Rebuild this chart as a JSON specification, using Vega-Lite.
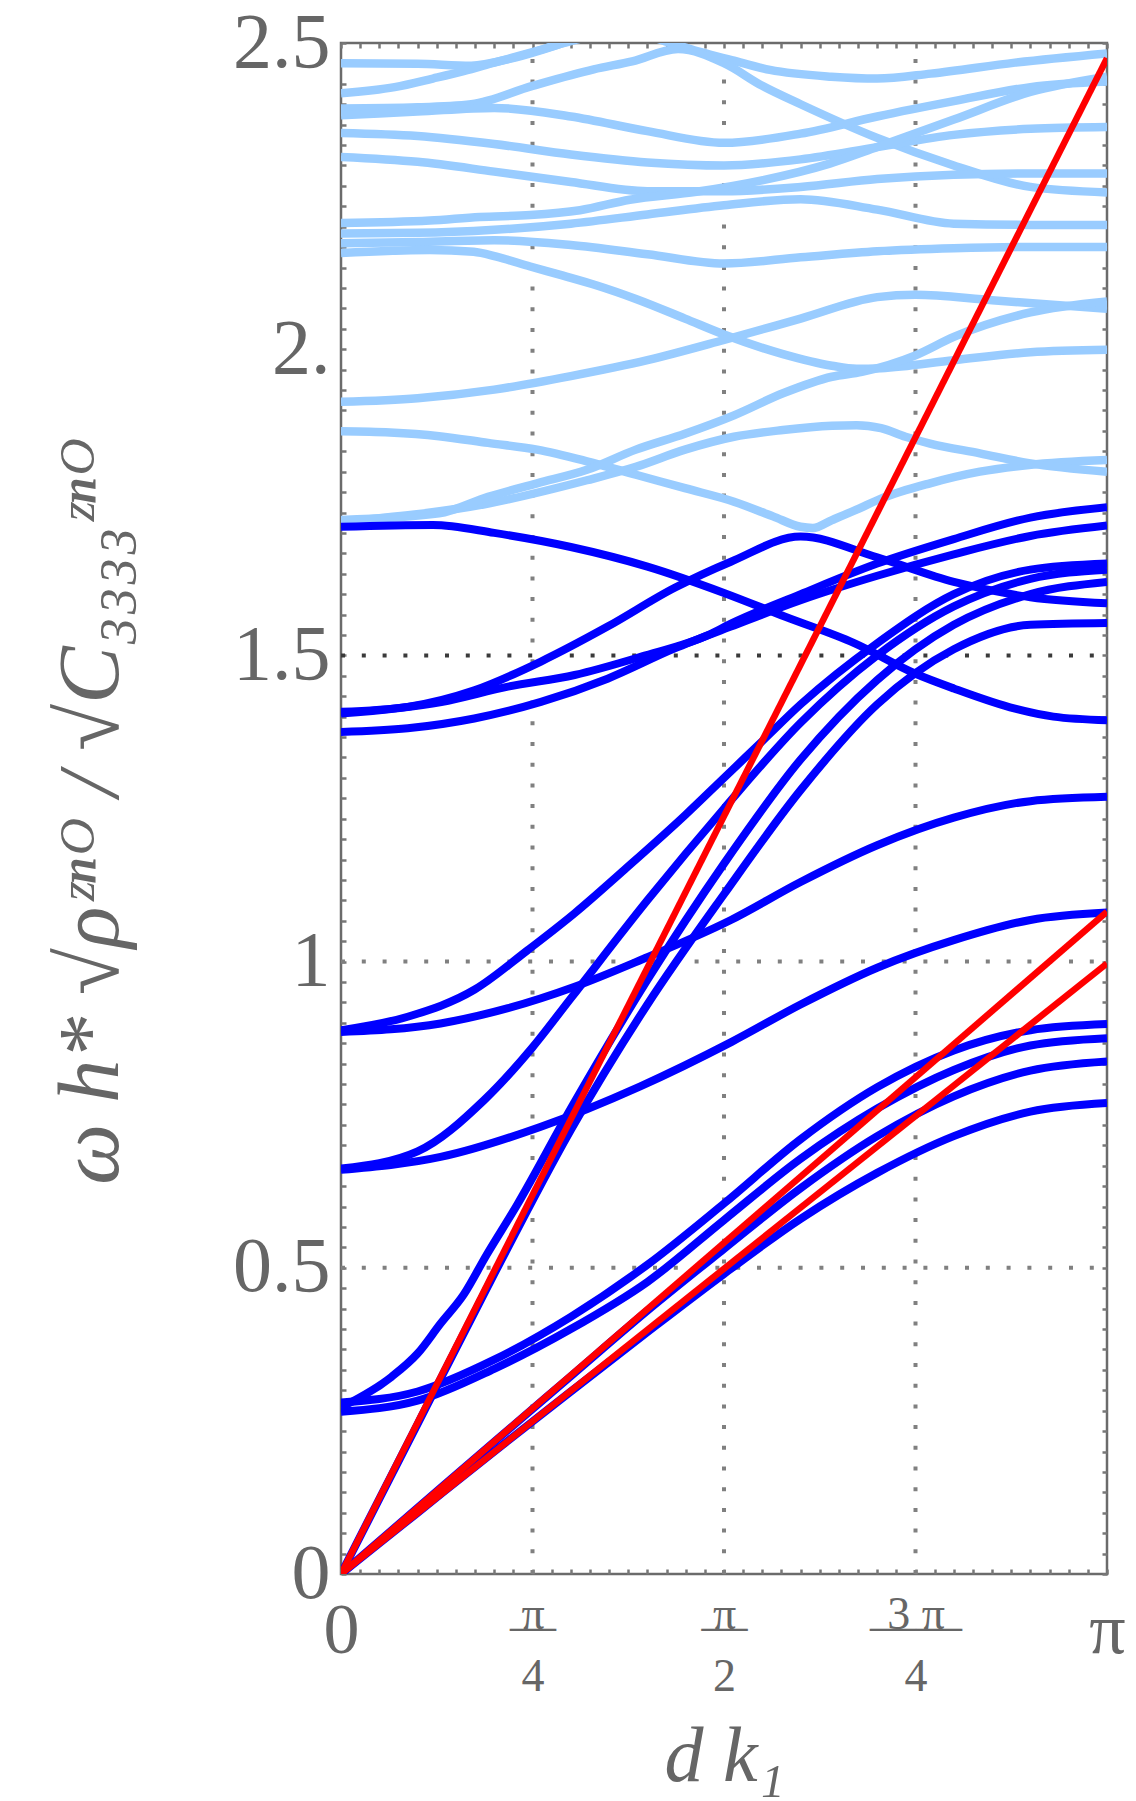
{
  "$schema": "https://vega.github.io/schema/vega-lite/v6.json",
  "width": 766,
  "height": 1531,
  "autosize": {"type": "none"},
  "padding": {"left": 341, "top": 43, "right": 29, "bottom": 227},
  "background": "#ffffff",
  "config": {
    "view": {"stroke": "#6b6b6b", "strokeWidth": 2.5},
    "axis": {
      "domain": false, "grid": false,
      "labelFont": "Liberation Serif", "titleFont": "Liberation Serif",
      "labelColor": "#666666", "titleColor": "#666666",
      "tickColor": "#777777", "tickWidth": 2.5, "tickSize": -5,
      "labelOverlap": false, "labelFlush": false, "labelBound": false
    }
  },
  "datasets": {
    "gridK": [{"t": 0.25}, {"t": 0.5}, {"t": 0.75}],
    "gridW": [{"v": 0.5}, {"v": 1}, {"v": 1.5}],
    "light": [
      {"c": "L1", "t": 0, "y": 2.467}, {"c": "L1", "t": 0.1, "y": 2.466}, {"c": "L1", "t": 0.17, "y": 2.463}, {"c": "L1", "t": 0.22, "y": 2.474}, {"c": "L1", "t": 0.26, "y": 2.488}, {"c": "L1", "t": 0.3, "y": 2.505}, {"c": "L1", "t": 0.36, "y": 2.54}, {"c": "L1", "t": 0.45, "y": 2.58}, {"c": "L1", "t": 0.6, "y": 2.62}, {"c": "L1", "t": 1, "y": 2.65},
      {"c": "L2", "t": 0, "y": 2.418}, {"c": "L2", "t": 0.07, "y": 2.428}, {"c": "L2", "t": 0.12, "y": 2.442}, {"c": "L2", "t": 0.16, "y": 2.454}, {"c": "L2", "t": 0.2, "y": 2.468}, {"c": "L2", "t": 0.25, "y": 2.485}, {"c": "L2", "t": 0.3, "y": 2.503}, {"c": "L2", "t": 0.37, "y": 2.52}, {"c": "L2", "t": 0.43, "y": 2.5}, {"c": "L2", "t": 0.47, "y": 2.485}, {"c": "L2", "t": 0.51, "y": 2.472}, {"c": "L2", "t": 0.56, "y": 2.456}, {"c": "L2", "t": 0.64, "y": 2.445}, {"c": "L2", "t": 0.7, "y": 2.442}, {"c": "L2", "t": 0.77, "y": 2.45}, {"c": "L2", "t": 0.88, "y": 2.468}, {"c": "L2", "t": 1, "y": 2.483},
      {"c": "L3", "t": 0, "y": 2.393}, {"c": "L3", "t": 0.1, "y": 2.395}, {"c": "L3", "t": 0.17, "y": 2.4}, {"c": "L3", "t": 0.25, "y": 2.43}, {"c": "L3", "t": 0.33, "y": 2.457}, {"c": "L3", "t": 0.38, "y": 2.47}, {"c": "L3", "t": 0.44, "y": 2.49}, {"c": "L3", "t": 0.5, "y": 2.467}, {"c": "L3", "t": 0.55, "y": 2.43}, {"c": "L3", "t": 0.6, "y": 2.4}, {"c": "L3", "t": 0.7, "y": 2.345}, {"c": "L3", "t": 0.8, "y": 2.3}, {"c": "L3", "t": 0.9, "y": 2.265}, {"c": "L3", "t": 1, "y": 2.256},
      {"c": "L4", "t": 0, "y": 2.382}, {"c": "L4", "t": 0.1, "y": 2.388}, {"c": "L4", "t": 0.2, "y": 2.394}, {"c": "L4", "t": 0.3, "y": 2.38}, {"c": "L4", "t": 0.4, "y": 2.356}, {"c": "L4", "t": 0.5, "y": 2.337}, {"c": "L4", "t": 0.6, "y": 2.352}, {"c": "L4", "t": 0.7, "y": 2.38}, {"c": "L4", "t": 0.8, "y": 2.405}, {"c": "L4", "t": 0.9, "y": 2.428}, {"c": "L4", "t": 1, "y": 2.437},
      {"c": "L5", "t": 0, "y": 2.353}, {"c": "L5", "t": 0.1, "y": 2.348}, {"c": "L5", "t": 0.2, "y": 2.335}, {"c": "L5", "t": 0.3, "y": 2.318}, {"c": "L5", "t": 0.4, "y": 2.305}, {"c": "L5", "t": 0.5, "y": 2.3}, {"c": "L5", "t": 0.6, "y": 2.31}, {"c": "L5", "t": 0.7, "y": 2.33}, {"c": "L5", "t": 0.8, "y": 2.35}, {"c": "L5", "t": 0.9, "y": 2.36}, {"c": "L5", "t": 1, "y": 2.363},
      {"c": "L6", "t": 0, "y": 2.314}, {"c": "L6", "t": 0.1, "y": 2.306}, {"c": "L6", "t": 0.2, "y": 2.29}, {"c": "L6", "t": 0.3, "y": 2.273}, {"c": "L6", "t": 0.4, "y": 2.258}, {"c": "L6", "t": 0.5, "y": 2.258}, {"c": "L6", "t": 0.6, "y": 2.265}, {"c": "L6", "t": 0.7, "y": 2.278}, {"c": "L6", "t": 0.8, "y": 2.285}, {"c": "L6", "t": 0.9, "y": 2.287}, {"c": "L6", "t": 1, "y": 2.287},
      {"c": "L7", "t": 0, "y": 2.206}, {"c": "L7", "t": 0.116, "y": 2.21}, {"c": "L7", "t": 0.181, "y": 2.216}, {"c": "L7", "t": 0.247, "y": 2.219}, {"c": "L7", "t": 0.312, "y": 2.227}, {"c": "L7", "t": 0.377, "y": 2.244}, {"c": "L7", "t": 0.464, "y": 2.257}, {"c": "L7", "t": 0.551, "y": 2.276}, {"c": "L7", "t": 0.638, "y": 2.303}, {"c": "L7", "t": 0.7, "y": 2.33}, {"c": "L7", "t": 0.8, "y": 2.375}, {"c": "L7", "t": 0.9, "y": 2.42}, {"c": "L7", "t": 1, "y": 2.445},
      {"c": "L8", "t": 0, "y": 2.189}, {"c": "L8", "t": 0.1, "y": 2.19}, {"c": "L8", "t": 0.2, "y": 2.195}, {"c": "L8", "t": 0.3, "y": 2.205}, {"c": "L8", "t": 0.4, "y": 2.22}, {"c": "L8", "t": 0.5, "y": 2.235}, {"c": "L8", "t": 0.6, "y": 2.245}, {"c": "L8", "t": 0.7, "y": 2.228}, {"c": "L8", "t": 0.8, "y": 2.205}, {"c": "L8", "t": 0.9, "y": 2.203}, {"c": "L8", "t": 1, "y": 2.203},
      {"c": "L9", "t": 0, "y": 2.173}, {"c": "L9", "t": 0.1, "y": 2.175}, {"c": "L9", "t": 0.2, "y": 2.178}, {"c": "L9", "t": 0.3, "y": 2.17}, {"c": "L9", "t": 0.4, "y": 2.155}, {"c": "L9", "t": 0.5, "y": 2.14}, {"c": "L9", "t": 0.6, "y": 2.15}, {"c": "L9", "t": 0.7, "y": 2.16}, {"c": "L9", "t": 0.8, "y": 2.165}, {"c": "L9", "t": 0.9, "y": 2.167}, {"c": "L9", "t": 1, "y": 2.167},
      {"c": "L10", "t": 0, "y": 2.157}, {"c": "L10", "t": 0.116, "y": 2.162}, {"c": "L10", "t": 0.173, "y": 2.159}, {"c": "L10", "t": 0.203, "y": 2.151}, {"c": "L10", "t": 0.247, "y": 2.135}, {"c": "L10", "t": 0.29, "y": 2.12}, {"c": "L10", "t": 0.334, "y": 2.104}, {"c": "L10", "t": 0.385, "y": 2.082}, {"c": "L10", "t": 0.449, "y": 2.05}, {"c": "L10", "t": 0.5, "y": 2.024}, {"c": "L10", "t": 0.577, "y": 1.992}, {"c": "L10", "t": 0.641, "y": 1.973}, {"c": "L10", "t": 0.673, "y": 1.968}, {"c": "L10", "t": 0.705, "y": 1.969}, {"c": "L10", "t": 0.8, "y": 1.982}, {"c": "L10", "t": 0.9, "y": 1.995}, {"c": "L10", "t": 1, "y": 1.999},
      {"c": "L11", "t": 0, "y": 1.914}, {"c": "L11", "t": 0.1, "y": 1.92}, {"c": "L11", "t": 0.2, "y": 1.934}, {"c": "L11", "t": 0.3, "y": 1.956}, {"c": "L11", "t": 0.4, "y": 1.982}, {"c": "L11", "t": 0.5, "y": 2.015}, {"c": "L11", "t": 0.6, "y": 2.05}, {"c": "L11", "t": 0.7, "y": 2.085}, {"c": "L11", "t": 0.75, "y": 2.089}, {"c": "L11", "t": 0.85, "y": 2.08}, {"c": "L11", "t": 1, "y": 2.066},
      {"c": "L12", "t": 0, "y": 1.866}, {"c": "L12", "t": 0.064, "y": 1.864}, {"c": "L12", "t": 0.128, "y": 1.858}, {"c": "L12", "t": 0.192, "y": 1.847}, {"c": "L12", "t": 0.256, "y": 1.836}, {"c": "L12", "t": 0.321, "y": 1.817}, {"c": "L12", "t": 0.385, "y": 1.795}, {"c": "L12", "t": 0.449, "y": 1.773}, {"c": "L12", "t": 0.513, "y": 1.751}, {"c": "L12", "t": 0.564, "y": 1.727}, {"c": "L12", "t": 0.6, "y": 1.71}, {"c": "L12", "t": 0.616, "y": 1.708}, {"c": "L12", "t": 0.641, "y": 1.721}, {"c": "L12", "t": 0.673, "y": 1.738}, {"c": "L12", "t": 0.705, "y": 1.756}, {"c": "L12", "t": 0.769, "y": 1.781}, {"c": "L12", "t": 0.834, "y": 1.8}, {"c": "L12", "t": 0.898, "y": 1.811}, {"c": "L12", "t": 1, "y": 1.819},
      {"c": "L13", "t": 0, "y": 1.718}, {"c": "L13", "t": 0.192, "y": 1.748}, {"c": "L13", "t": 0.321, "y": 1.786}, {"c": "L13", "t": 0.385, "y": 1.808}, {"c": "L13", "t": 0.449, "y": 1.836}, {"c": "L13", "t": 0.513, "y": 1.857}, {"c": "L13", "t": 0.577, "y": 1.868}, {"c": "L13", "t": 0.641, "y": 1.875}, {"c": "L13", "t": 0.673, "y": 1.876}, {"c": "L13", "t": 0.705, "y": 1.871}, {"c": "L13", "t": 0.737, "y": 1.857}, {"c": "L13", "t": 0.769, "y": 1.846}, {"c": "L13", "t": 0.834, "y": 1.83}, {"c": "L13", "t": 0.898, "y": 1.814}, {"c": "L13", "t": 1, "y": 1.8},
      {"c": "L14", "t": 0, "y": 1.721}, {"c": "L14", "t": 0.128, "y": 1.732}, {"c": "L14", "t": 0.192, "y": 1.759}, {"c": "L14", "t": 0.256, "y": 1.781}, {"c": "L14", "t": 0.321, "y": 1.803}, {"c": "L14", "t": 0.385, "y": 1.836}, {"c": "L14", "t": 0.449, "y": 1.862}, {"c": "L14", "t": 0.513, "y": 1.892}, {"c": "L14", "t": 0.577, "y": 1.928}, {"c": "L14", "t": 0.641, "y": 1.955}, {"c": "L14", "t": 0.68, "y": 1.963}, {"c": "L14", "t": 0.75, "y": 1.99}, {"c": "L14", "t": 0.8, "y": 2.02}, {"c": "L14", "t": 0.9, "y": 2.06}, {"c": "L14", "t": 1, "y": 2.078}
    ],
    "dark": [
      {"c": "D1", "t": 0, "y": 0}, {"c": "D1", "t": 0.1, "y": 0.245}, {"c": "D1", "t": 0.2, "y": 0.49}, {"c": "D1", "t": 0.3, "y": 0.725}, {"c": "D1", "t": 0.4, "y": 0.93}, {"c": "D1", "t": 0.5, "y": 1.11}, {"c": "D1", "t": 0.6, "y": 1.28}, {"c": "D1", "t": 0.7, "y": 1.42}, {"c": "D1", "t": 0.8, "y": 1.51}, {"c": "D1", "t": 0.9, "y": 1.55}, {"c": "D1", "t": 1, "y": 1.553},
      {"c": "D2", "t": 0, "y": 0}, {"c": "D2", "t": 0.1, "y": 0.108}, {"c": "D2", "t": 0.2, "y": 0.216}, {"c": "D2", "t": 0.3, "y": 0.323}, {"c": "D2", "t": 0.4, "y": 0.43}, {"c": "D2", "t": 0.5, "y": 0.531}, {"c": "D2", "t": 0.6, "y": 0.63}, {"c": "D2", "t": 0.7, "y": 0.715}, {"c": "D2", "t": 0.8, "y": 0.78}, {"c": "D2", "t": 0.9, "y": 0.822}, {"c": "D2", "t": 1, "y": 0.837},
      {"c": "D3", "t": 0, "y": 0}, {"c": "D3", "t": 0.1, "y": 0.1}, {"c": "D3", "t": 0.2, "y": 0.2}, {"c": "D3", "t": 0.3, "y": 0.298}, {"c": "D3", "t": 0.4, "y": 0.395}, {"c": "D3", "t": 0.5, "y": 0.49}, {"c": "D3", "t": 0.6, "y": 0.58}, {"c": "D3", "t": 0.7, "y": 0.655}, {"c": "D3", "t": 0.8, "y": 0.715}, {"c": "D3", "t": 0.9, "y": 0.755}, {"c": "D3", "t": 1, "y": 0.769},
      {"c": "D4", "t": 0, "y": 0.28}, {"c": "D4", "t": 0.1, "y": 0.298}, {"c": "D4", "t": 0.2, "y": 0.35}, {"c": "D4", "t": 0.3, "y": 0.42}, {"c": "D4", "t": 0.4, "y": 0.505}, {"c": "D4", "t": 0.5, "y": 0.605}, {"c": "D4", "t": 0.6, "y": 0.71}, {"c": "D4", "t": 0.7, "y": 0.795}, {"c": "D4", "t": 0.8, "y": 0.855}, {"c": "D4", "t": 0.9, "y": 0.888}, {"c": "D4", "t": 1, "y": 0.898},
      {"c": "D5", "t": 0, "y": 0.265}, {"c": "D5", "t": 0.1, "y": 0.283}, {"c": "D5", "t": 0.2, "y": 0.335}, {"c": "D5", "t": 0.3, "y": 0.4}, {"c": "D5", "t": 0.4, "y": 0.477}, {"c": "D5", "t": 0.5, "y": 0.578}, {"c": "D5", "t": 0.6, "y": 0.678}, {"c": "D5", "t": 0.7, "y": 0.76}, {"c": "D5", "t": 0.8, "y": 0.823}, {"c": "D5", "t": 0.9, "y": 0.863}, {"c": "D5", "t": 1, "y": 0.875},
      {"c": "D6", "t": 0, "y": 0.272}, {"c": "D6", "t": 0.066, "y": 0.322}, {"c": "D6", "t": 0.1, "y": 0.36}, {"c": "D6", "t": 0.13, "y": 0.409}, {"c": "D6", "t": 0.16, "y": 0.456}, {"c": "D6", "t": 0.19, "y": 0.521}, {"c": "D6", "t": 0.23, "y": 0.603}, {"c": "D6", "t": 0.3, "y": 0.76}, {"c": "D6", "t": 0.4, "y": 0.97}, {"c": "D6", "t": 0.5, "y": 1.16}, {"c": "D6", "t": 0.6, "y": 1.33}, {"c": "D6", "t": 0.7, "y": 1.46}, {"c": "D6", "t": 0.8, "y": 1.55}, {"c": "D6", "t": 0.9, "y": 1.6}, {"c": "D6", "t": 1, "y": 1.62},
      {"c": "D7", "t": 0, "y": 0.66}, {"c": "D7", "t": 0.13, "y": 0.681}, {"c": "D7", "t": 0.26, "y": 0.73}, {"c": "D7", "t": 0.39, "y": 0.796}, {"c": "D7", "t": 0.51, "y": 0.869}, {"c": "D7", "t": 0.6, "y": 0.93}, {"c": "D7", "t": 0.7, "y": 0.99}, {"c": "D7", "t": 0.8, "y": 1.035}, {"c": "D7", "t": 0.9, "y": 1.068}, {"c": "D7", "t": 1, "y": 1.08},
      {"c": "D8", "t": 0, "y": 0.662}, {"c": "D8", "t": 0.1, "y": 0.69}, {"c": "D8", "t": 0.187, "y": 0.774}, {"c": "D8", "t": 0.25, "y": 0.86}, {"c": "D8", "t": 0.3, "y": 0.94}, {"c": "D8", "t": 0.4, "y": 1.1}, {"c": "D8", "t": 0.5, "y": 1.25}, {"c": "D8", "t": 0.6, "y": 1.39}, {"c": "D8", "t": 0.7, "y": 1.5}, {"c": "D8", "t": 0.8, "y": 1.58}, {"c": "D8", "t": 0.9, "y": 1.625}, {"c": "D8", "t": 1, "y": 1.64},
      {"c": "D9", "t": 0, "y": 0.885}, {"c": "D9", "t": 0.13, "y": 0.899}, {"c": "D9", "t": 0.218, "y": 0.924}, {"c": "D9", "t": 0.305, "y": 0.959}, {"c": "D9", "t": 0.392, "y": 1.003}, {"c": "D9", "t": 0.509, "y": 1.068}, {"c": "D9", "t": 0.6, "y": 1.13}, {"c": "D9", "t": 0.7, "y": 1.19}, {"c": "D9", "t": 0.8, "y": 1.235}, {"c": "D9", "t": 0.9, "y": 1.262}, {"c": "D9", "t": 1, "y": 1.269},
      {"c": "D10", "t": 0, "y": 0.888}, {"c": "D10", "t": 0.087, "y": 0.91}, {"c": "D10", "t": 0.174, "y": 0.954}, {"c": "D10", "t": 0.244, "y": 1.019}, {"c": "D10", "t": 0.305, "y": 1.079}, {"c": "D10", "t": 0.37, "y": 1.15}, {"c": "D10", "t": 0.45, "y": 1.24}, {"c": "D10", "t": 0.5, "y": 1.3}, {"c": "D10", "t": 0.55, "y": 1.36}, {"c": "D10", "t": 0.6, "y": 1.42}, {"c": "D10", "t": 0.7, "y": 1.52}, {"c": "D10", "t": 0.8, "y": 1.6}, {"c": "D10", "t": 0.9, "y": 1.64}, {"c": "D10", "t": 1, "y": 1.65},
      {"c": "D11", "t": 0, "y": 1.408}, {"c": "D11", "t": 0.087, "y": 1.416}, {"c": "D11", "t": 0.174, "y": 1.443}, {"c": "D11", "t": 0.261, "y": 1.49}, {"c": "D11", "t": 0.348, "y": 1.547}, {"c": "D11", "t": 0.435, "y": 1.61}, {"c": "D11", "t": 0.509, "y": 1.653}, {"c": "D11", "t": 0.6, "y": 1.694}, {"c": "D11", "t": 0.7, "y": 1.66}, {"c": "D11", "t": 0.8, "y": 1.62}, {"c": "D11", "t": 0.9, "y": 1.595}, {"c": "D11", "t": 1, "y": 1.585},
      {"c": "D12", "t": 0, "y": 1.405}, {"c": "D12", "t": 0.131, "y": 1.424}, {"c": "D12", "t": 0.218, "y": 1.449}, {"c": "D12", "t": 0.305, "y": 1.468}, {"c": "D12", "t": 0.392, "y": 1.498}, {"c": "D12", "t": 0.479, "y": 1.533}, {"c": "D12", "t": 0.509, "y": 1.552}, {"c": "D12", "t": 0.6, "y": 1.6}, {"c": "D12", "t": 0.7, "y": 1.65}, {"c": "D12", "t": 0.8, "y": 1.69}, {"c": "D12", "t": 0.9, "y": 1.725}, {"c": "D12", "t": 1, "y": 1.742},
      {"c": "D13", "t": 0, "y": 1.375}, {"c": "D13", "t": 0.087, "y": 1.381}, {"c": "D13", "t": 0.174, "y": 1.397}, {"c": "D13", "t": 0.261, "y": 1.424}, {"c": "D13", "t": 0.348, "y": 1.462}, {"c": "D13", "t": 0.435, "y": 1.511}, {"c": "D13", "t": 0.509, "y": 1.547}, {"c": "D13", "t": 0.6, "y": 1.59}, {"c": "D13", "t": 0.7, "y": 1.63}, {"c": "D13", "t": 0.8, "y": 1.665}, {"c": "D13", "t": 0.9, "y": 1.695}, {"c": "D13", "t": 1, "y": 1.712},
      {"c": "D14", "t": 0, "y": 1.71}, {"c": "D14", "t": 0.12, "y": 1.713}, {"c": "D14", "t": 0.2, "y": 1.7}, {"c": "D14", "t": 0.3, "y": 1.677}, {"c": "D14", "t": 0.4, "y": 1.645}, {"c": "D14", "t": 0.5, "y": 1.602}, {"c": "D14", "t": 0.58, "y": 1.563}, {"c": "D14", "t": 0.67, "y": 1.52}, {"c": "D14", "t": 0.75, "y": 1.47}, {"c": "D14", "t": 0.8, "y": 1.446}, {"c": "D14", "t": 0.88, "y": 1.413}, {"c": "D14", "t": 0.93, "y": 1.4}, {"c": "D14", "t": 1, "y": 1.394}
    ],
    "red": [
      {"c": "R1", "t": 0, "y": 0}, {"c": "R1", "t": 1, "y": 2.475},
      {"c": "R2", "t": 0, "y": 0}, {"c": "R2", "t": 1, "y": 1.0815},
      {"c": "R3", "t": 0, "y": 0}, {"c": "R3", "t": 1, "y": 0.997}
    ]
  },
  "resolve": {"axis": {"x": "independent", "y": "independent"}},
  "layer": [
    {
      "data": {"name": "gridK"},
      "mark": {"type": "rule", "stroke": "#808080", "strokeWidth": 4, "strokeDash": [4, 16.7]},
      "encoding": {
        "x": {
          "field": "t", "type": "quantitative",
          "scale": {"domain": [0, 1], "nice": false, "zero": false},
          "axis": {
            "orient": "bottom",
            "values": [0, 0.025, 0.05, 0.075, 0.1, 0.125, 0.15, 0.175, 0.2, 0.225, 0.25, 0.275, 0.3, 0.325, 0.35, 0.375, 0.4, 0.425, 0.45, 0.475, 0.5, 0.525, 0.55, 0.575, 0.6, 0.625, 0.65, 0.675, 0.7, 0.725, 0.75, 0.775, 0.8, 0.825, 0.85, 0.875, 0.9, 0.925, 0.95, 0.975, 1],
            "labelExpr": "abs(datum.value) < 1e-6 ? ['\u200b', '\u200b', '0'] : abs(datum.value - 0.25) < 1e-6 ? ['π', '—', '\u200b', '\u200b', '\u200b', '4'] : abs(datum.value - 0.5) < 1e-6 ? ['π', '—', '\u200b', '\u200b', '\u200b', '2'] : abs(datum.value - 0.75) < 1e-6 ? ['3 π', '——', '\u200b', '\u200b', '\u200b', '4'] : abs(datum.value - 1) < 1e-6 ? ['\u200b', '\u200b', 'π'] : ''",
            "labelFontSize": {"condition": {"test": "abs(datum.value) < 1e-6 || abs(datum.value - 1) < 1e-6", "value": 72}, "value": 46},
            "labelBaseline": "alphabetic",
            "labelAlign": "center",
            "labelLineHeight": 12.4,
            "labelPadding": 59,
            "title": "d k₁",
            "titleFontSize": 78,
            "titleFontStyle": "italic",
            "titleFontWeight": "normal",
            "titleBaseline": "alphabetic",
            "titleY": 206,
            "titleX": 383
          }
        },
        "y": {
          "datum": 0, "type": "quantitative",
          "scale": {"domain": [0, 2.5], "nice": false, "zero": false},
          "axis": {
            "orient": "left",
            "values": [0, 0.0333, 0.0667, 0.1, 0.1333, 0.1667, 0.2, 0.2333, 0.2667, 0.3, 0.3333, 0.3667, 0.4, 0.4333, 0.4667, 0.5, 0.5333, 0.5667, 0.6, 0.6333, 0.6667, 0.7, 0.7333, 0.7667, 0.8, 0.8333, 0.8667, 0.9, 0.9333, 0.9667, 1, 1.0333, 1.0667, 1.1, 1.1333, 1.1667, 1.2, 1.2333, 1.2667, 1.3, 1.3333, 1.3667, 1.4, 1.4333, 1.4667, 1.5, 1.5333, 1.5667, 1.6, 1.6333, 1.6667, 1.7, 1.7333, 1.7667, 1.8, 1.8333, 1.8667, 1.9, 1.9333, 1.9667, 2, 2.0333, 2.0667, 2.1, 2.1333, 2.1667, 2.2, 2.2333, 2.2667, 2.3, 2.3333, 2.3667, 2.4, 2.4333, 2.4667, 2.5],
            "labelExpr": "abs(datum.value - 2) < 1e-6 ? '2.' : abs(datum.value * 2 - round(datum.value * 2)) < 1e-6 ? format(datum.value, '') : ''",
            "labelFontSize": 78,
            "labelBaseline": "middle",
            "labelAlign": "right",
            "labelPadding": 16,
            "title": "ω h* √ρᶻⁿᴼ / √C₃₃₃₃ᶻⁿᴼ",
            "titleFontSize": 86,
            "titleFontStyle": "italic",
            "titleFontWeight": "normal",
            "titleAngle": -90,
            "titleAlign": "center",
            "titleBaseline": "alphabetic",
            "titleX": -224,
            "titleY": 768
          }
        },
        "y2": {"datum": 2.5}
      }
    },
    {
      "data": {"name": "gridW"},
      "mark": {"type": "rule", "strokeWidth": 4, "strokeDash": [4, 16.8]},
      "encoding": {
        "y": {
          "field": "v", "type": "quantitative",
          "axis": {"orient": "right", "values": [0, 0.0333, 0.0667, 0.1, 0.1333, 0.1667, 0.2, 0.2333, 0.2667, 0.3, 0.3333, 0.3667, 0.4, 0.4333, 0.4667, 0.5, 0.5333, 0.5667, 0.6, 0.6333, 0.6667, 0.7, 0.7333, 0.7667, 0.8, 0.8333, 0.8667, 0.9, 0.9333, 0.9667, 1, 1.0333, 1.0667, 1.1, 1.1333, 1.1667, 1.2, 1.2333, 1.2667, 1.3, 1.3333, 1.3667, 1.4, 1.4333, 1.4667, 1.5, 1.5333, 1.5667, 1.6, 1.6333, 1.6667, 1.7, 1.7333, 1.7667, 1.8, 1.8333, 1.8667, 1.9, 1.9333, 1.9667, 2, 2.0333, 2.0667, 2.1, 2.1333, 2.1667, 2.2, 2.2333, 2.2667, 2.3, 2.3333, 2.3667, 2.4, 2.4333, 2.4667, 2.5], "labels": false, "title": null}
        },
        "x": {
          "datum": 0, "type": "quantitative",
          "axis": {"orient": "top", "values": [0, 0.025, 0.05, 0.075, 0.1, 0.125, 0.15, 0.175, 0.2, 0.225, 0.25, 0.275, 0.3, 0.325, 0.35, 0.375, 0.4, 0.425, 0.45, 0.475, 0.5, 0.525, 0.55, 0.575, 0.6, 0.625, 0.65, 0.675, 0.7, 0.725, 0.75, 0.775, 0.8, 0.825, 0.85, 0.875, 0.9, 0.925, 0.95, 0.975, 1], "labels": false, "title": null}
        },
        "x2": {"datum": 1},
        "color": {"condition": {"test": "datum.v == 1.5", "value": "#3a3a3a"}, "value": "#808080"}
      }
    },
    {
      "data": {"name": "light"},
      "mark": {"type": "line", "stroke": "#99ccff", "strokeWidth": 8.5, "interpolate": "monotone", "clip": true},
      "encoding": {
        "x": {"field": "t", "type": "quantitative", "axis": null},
        "y": {"field": "y", "type": "quantitative", "axis": null},
        "detail": {"field": "c"}
      }
    },
    {
      "data": {"name": "dark"},
      "mark": {"type": "line", "stroke": "#0000ff", "strokeWidth": 8, "interpolate": "monotone", "clip": true},
      "encoding": {
        "x": {"field": "t", "type": "quantitative", "axis": null},
        "y": {"field": "y", "type": "quantitative", "axis": null},
        "detail": {"field": "c"}
      }
    },
    {
      "data": {"name": "red"},
      "mark": {"type": "line", "stroke": "#ff0000", "strokeWidth": 6.5, "clip": true},
      "encoding": {
        "x": {"field": "t", "type": "quantitative", "axis": null},
        "y": {"field": "y", "type": "quantitative", "axis": null},
        "detail": {"field": "c"}
      }
    }
  ]
}
